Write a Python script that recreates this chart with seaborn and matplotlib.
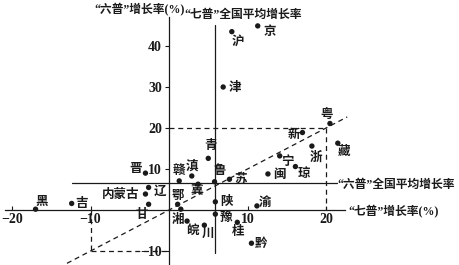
import matplotlib
matplotlib.use("Agg")
import matplotlib.pyplot as plt
import seaborn as sns
import pandas as pd

# ---- data (x: "七普" growth %, y: "六普" growth %) ----
provinces = ["京", "沪", "津", "粤", "新", "浙", "藏", "宁", "琼", "闽", "苏", "鲁", "青",
             "滇", "赣", "冀", "鄂", "湘", "陕", "豫", "皖", "川", "桂", "黔", "渝",
             "黑", "吉", "辽", "内蒙古", "甘", "晋"]
growth_7 = [11.3, 8.0, 6.9, 20.5, 17.0, 18.2, 21.5, 14.1, 16.1, 12.6, 7.7, 5.8, 5.0,
            2.9, 1.3, 3.7, 1.1, 1.5, 5.9, 5.9, 2.3, 4.5, 8.7, 10.5, 11.2,
            -17.0, -12.4, -2.6, -3.0, -2.6, -3.0]
growth_6 = [44.9, 43.5, 30.0, 21.1, 18.9, 15.6, 16.3, 13.2, 10.6, 8.8, 7.5, 6.9, 12.6,
            8.3, 7.1, 6.3, 1.4, 0.2, 2.0, -1.0, -2.7, -3.7, -3.0, -8.1, 1.0,
            0.2, 1.6, 5.5, 3.9, 1.4, 9.0]
national_7 = 5.9   # "七普" national average growth
national_6 = 6.6   # "六普" national average growth
xticks = [-20, -10, 10, 20]
xtick_labels = ["−20", "−10", "10", "20"]
yticks = [-10, 10, 20, 30, 40]
ytick_labels = ["−10", "10", "20", "30", "40"]

# label offsets in pixels (dx, dy) – layout only
label_offsets = {
    "京": (12, -6), "沪": (6, -10), "津": (12, 0), "粤": (-3, 9), "新": (-9, -2),
    "浙": (4, -11), "藏": (6, -8), "宁": (8, -6), "琼": (9, -7), "闽": (11, -1),
    "苏": (11, 0), "鲁": (5, 11), "青": (2, 13), "滇": (0, 10), "赣": (0, 10),
    "冀": (-1, -6), "鄂": (0, 9), "湘": (-3, -10), "陕": (11, 0), "豫": (11, -3),
    "皖": (5, -9), "川": (4, -8), "桂": (1, -9), "黔": (10, 0), "渝": (8, 3),
    "黑": (6, 8), "吉": (10, 0), "辽": (11, -4), "内蒙古": (-6, 0), "甘": (-7, -10),
    "晋": (-10, 5),
}

df = pd.DataFrame({"prov": provinces, "x": growth_7, "y": growth_6})

sns.set_theme(style="white")
plt.rcParams["font.family"] = ["Noto Sans CJK SC", "DejaVu Sans"]

fig = plt.figure(figsize=(4.59, 2.65), dpi=100)
ax = fig.add_axes([0, 0, 1, 1])
ax.set_xlim(-21.53, 36.94)
ax.set_ylim(-13.41, 51.22)

ink = "#1a1a1a"

# axes as spines through the origin
for s in ["top", "right"]:
    ax.spines[s].set_visible(False)
ax.spines["left"].set_position(("data", 0))
ax.spines["bottom"].set_position(("data", 0))
ax.spines["left"].set_bounds(-13.4, 47.1)
ax.spines["bottom"].set_bounds(-20.9, 22.4)
for s in ["left", "bottom"]:
    ax.spines[s].set_color(ink)
    ax.spines[s].set_linewidth(0.9)

ax.set_xticks(xticks)
ax.set_xticklabels(xtick_labels)
ax.set_yticks(yticks)
ax.set_yticklabels(ytick_labels)
ax.tick_params(axis="x", direction="in", length=3, width=0.8, color=ink, pad=2,
               bottom=True)
ax.tick_params(axis="y", direction="out", length=3, width=0.8, color=ink, pad=2,
               left=True)
for lab in ax.get_xticklabels() + ax.get_yticklabels():
    lab.set_fontfamily("Liberation Serif")
    lab.set_fontweight("bold")
    lab.set_fontsize(10)
    lab.set_color(ink)
ax.grid(False)

# national average lines
ax.plot([national_7, national_7], [-10.5, 45.1], color=ink, lw=0.9)
ax.plot([-12.4, 21.4], [national_6, national_6], color=ink, lw=0.9)

# dashed reference lines
dash = dict(color=ink, lw=0.9, ls=(0, (4, 3)))
ax.plot([-13.0, 22.7], [-13.0, 22.7], **dash)
ax.plot([0, 20], [20, 20], **dash)
ax.plot([20, 20], [20, 0], **dash)
ax.plot([-10, -10], [0, -10], **dash)
ax.plot([-10, 0], [-10, -10], **dash)

# points
sns.scatterplot(data=df, x="x", y="y", ax=ax, color=ink, s=15,
                edgecolor="none", legend=False, zorder=5)
ax.set_xlabel("")
ax.set_ylabel("")

# province labels
for p, x, y in zip(provinces, growth_7, growth_6):
    dx, dy = label_offsets[p]
    ha = "right" if p == "内蒙古" else "center"
    ax.annotate(p, (x, y), xytext=(dx, dy), textcoords="offset pixels",
                ha=ha, va="center", fontsize=9, fontweight="bold", color=ink)

# axis titles (narrow Latin quotes, CJK from Noto)
title_font = dict(family=["Liberation Serif", "Noto Sans CJK SC"],
                  fontsize=8.5, fontweight="bold", color=ink)
ax.text(-3.7, 48.8, "“六普”增长率(%)", ha="center", va="center", **title_font)
ax.text(9.4, 47.5, "“七普”全国平均增长率", ha="center", va="center", **title_font)
ax.text(21.5, national_6 - 0.5, "“六普”全国平均增长率", ha="left", va="center",
        **title_font)
ax.text(22.8, -0.4, "“七普”增长率(%)", ha="left", va="center", **title_font)

fig.savefig("out.png", dpi=100)
